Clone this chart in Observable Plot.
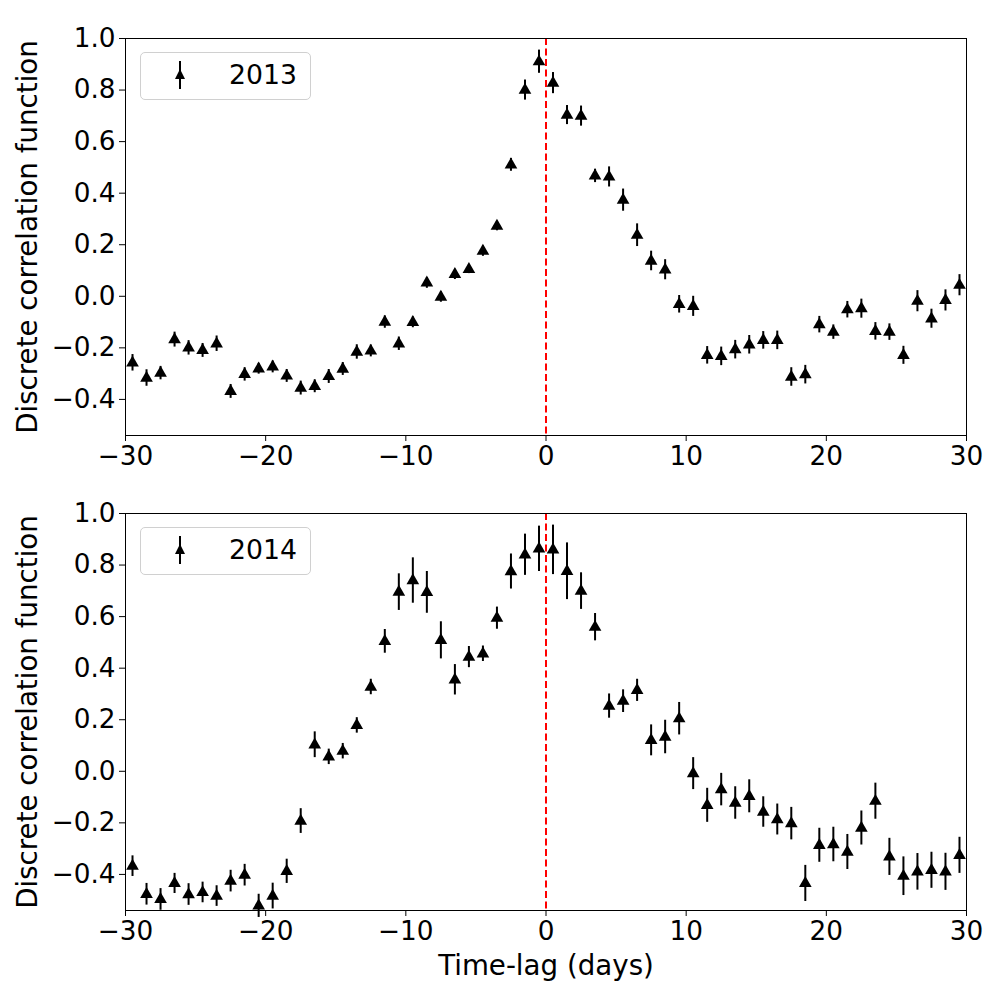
<!DOCTYPE html>
<html>
<head>
<meta charset="utf-8">
<script src="https://cdn.jsdelivr.net/npm/d3@7"></script>
<script src="https://cdn.jsdelivr.net/npm/@observablehq/plot@0.6"></script>
<style>
  body { margin: 0; background: white; }
  #wrap { position: relative; width: 1000px; height: 1000px; font-family: "DejaVu Sans", sans-serif; }
  #wrap svg { display: block; }
  .legend { position: absolute; left: 140px; width: 171px; height: 48px; box-sizing: border-box;
            border: 1px solid #d0d0d0; border-radius: 5px; background: rgba(255,255,255,0.8); }
  .legend svg { position: absolute; left: 28px; top: 5px; }
  .legend span { position: absolute; left: 88px; top: 6px; font-size: 26.7px; color: black; }
</style>
</head>
<body>
<div id="wrap"></div>
<script>
const lags = [-29.5,-28.5,-27.5,-26.5,-25.5,-24.5,-23.5,-22.5,-21.5,-20.5,-19.5,-18.5,-17.5,-16.5,-15.5,-14.5,-13.5,-12.5,-11.5,-10.5,-9.5,-8.5,-7.5,-6.5,-5.5,-4.5,-3.5,-2.5,-1.5,-0.5,0.5,1.5,2.5,3.5,4.5,5.5,6.5,7.5,8.5,9.5,10.5,11.5,12.5,13.5,14.5,15.5,16.5,17.5,18.5,19.5,20.5,21.5,22.5,23.5,24.5,25.5,26.5,27.5,28.5,29.5];

const dcf2013 = [-0.258,-0.317,-0.298,-0.168,-0.200,-0.210,-0.184,-0.369,-0.303,-0.281,-0.274,-0.309,-0.356,-0.349,-0.311,-0.282,-0.216,-0.212,-0.100,-0.184,-0.101,0.052,-0.003,0.085,0.105,0.175,0.272,0.510,0.800,0.910,0.827,0.703,0.699,0.467,0.463,0.373,0.237,0.137,0.103,-0.031,-0.039,-0.229,-0.233,-0.207,-0.188,-0.171,-0.171,-0.313,-0.304,-0.110,-0.139,-0.052,-0.048,-0.136,-0.139,-0.229,-0.019,-0.087,-0.016,0.043];
const err2013 = [0.032,0.032,0.026,0.029,0.028,0.027,0.030,0.027,0.026,0.021,0.023,0.025,0.027,0.025,0.027,0.025,0.028,0.023,0.024,0.026,0.021,0.021,0.020,0.020,0.017,0.020,0.018,0.025,0.039,0.045,0.041,0.037,0.039,0.026,0.039,0.043,0.044,0.038,0.039,0.034,0.039,0.034,0.036,0.036,0.036,0.034,0.036,0.036,0.036,0.032,0.028,0.032,0.037,0.034,0.032,0.035,0.041,0.037,0.041,0.041];

const dcf2014 = [-0.368,-0.477,-0.497,-0.435,-0.478,-0.470,-0.484,-0.426,-0.403,-0.522,-0.484,-0.388,-0.193,0.103,0.056,0.078,0.178,0.327,0.504,0.695,0.740,0.694,0.508,0.355,0.443,0.456,0.594,0.775,0.840,0.863,0.859,0.776,0.699,0.559,0.253,0.272,0.314,0.120,0.133,0.204,-0.009,-0.132,-0.071,-0.123,-0.097,-0.158,-0.187,-0.203,-0.435,-0.287,-0.284,-0.313,-0.220,-0.116,-0.332,-0.407,-0.390,-0.384,-0.390,-0.326];
const err2014 = [0.040,0.042,0.042,0.039,0.042,0.040,0.040,0.042,0.042,0.045,0.050,0.047,0.048,0.050,0.030,0.030,0.030,0.030,0.046,0.071,0.088,0.081,0.072,0.059,0.041,0.030,0.043,0.068,0.080,0.088,0.096,0.110,0.071,0.053,0.047,0.044,0.043,0.060,0.065,0.063,0.062,0.066,0.063,0.063,0.064,0.059,0.060,0.063,0.070,0.066,0.067,0.068,0.066,0.070,0.072,0.075,0.071,0.070,0.072,0.070];

const xTicks = [-30,-20,-10,0,10,20,30];
const yTicks = [-0.4,-0.2,0.0,0.2,0.4,0.6,0.8,1.0];
const yLabel = "Discrete correlation function";
const xLabel = "Time-lag (days)";
const seriesNames = ["2013", "2014"];

const minus = s => String(s).replace("-", "\u2212");

function panel(values, errs, opts) {
  const data = lags.map((x, i) => ({x, y: values[i], lo: values[i] - errs[i], hi: values[i] + errs[i]}));
  return Plot.plot({
    width: 1000,
    height: opts.height,
    marginLeft: 125,
    marginRight: 34,
    marginTop: 38,
    marginBottom: opts.marginBottom,
    style: {fontFamily: "DejaVu Sans", fontSize: "26.3px", color: "black", background: "white", overflow: "visible"},
    x: {domain: [-30, 30]},
    y: {domain: [-0.54, 1.0]},
    marks: [
      Plot.axisX({ticks: xTicks, tickSize: 6, tickPadding: 5, tickFormat: d => minus(d), stroke: "black", label: null, fontSize: 26.3}),
      Plot.axisY({ticks: yTicks, tickSize: 6, tickPadding: 4, tickFormat: d => minus(d.toFixed(1)), stroke: "black", label: null, fontSize: 26.3}),
      Plot.axisY({ticks: [], tickSize: 0, label: yLabel, labelAnchor: "center", labelArrow: "none", labelOffset: 108, fontSize: 27.7}),
      ...(opts.xLabel ? [Plot.axisX({ticks: [], tickSize: 0, label: opts.xLabel, labelAnchor: "center", labelArrow: "none", labelOffset: 64, fontSize: 27.7})] : []),
      Plot.ruleX(data, {x: "x", y1: "lo", y2: "hi", stroke: "black", strokeWidth: 2}),
      Plot.dot(data, {x: "x", y: "y", symbol: "triangle", r: 4.7, fill: "black", stroke: "none"}),
      Plot.ruleX([0], {stroke: "#ff0000", strokeWidth: 2, strokeDasharray: "7,3.5"}),
      Plot.frame({stroke: "black", strokeWidth: 1})
    ]
  });
}

const wrap = document.getElementById("wrap");
wrap.appendChild(panel(dcf2013, err2013, {height: 475, marginBottom: 40, xLabel: null}));
wrap.appendChild(panel(dcf2014, err2014, {height: 525, marginBottom: 90, xLabel: xLabel}));

function legend(top, name) {
  const d = document.createElement("div");
  d.className = "legend";
  d.style.top = top + "px";
  d.innerHTML = `<svg width="22" height="36" viewBox="0 0 22 36">
      <line x1="11" y1="3" x2="11" y2="31" stroke="black" stroke-width="2"/>
      <path d="M11,11 L16,21 L6,21 Z" fill="black"/>
    </svg><span>${name}</span>`;
  wrap.appendChild(d);
}
legend(52, seriesNames[0]);
legend(527, seriesNames[1]);
</script>
</body>
</html>
